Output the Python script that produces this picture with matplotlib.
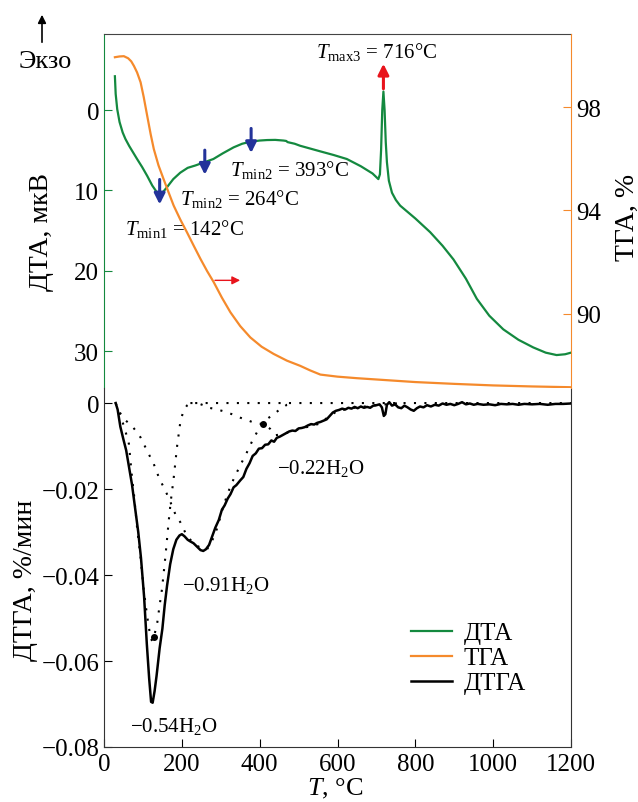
import matplotlib
matplotlib.use("Agg")
import matplotlib.pyplot as plt

plt.rcParams['font.family'] = ['Liberation Serif', 'DejaVu Serif']
plt.rcParams['mathtext.fontset'] = 'custom'
plt.rcParams['mathtext.rm'] = 'Liberation Serif'
plt.rcParams['mathtext.it'] = 'Liberation Serif:italic'

GREEN = '#14893f'
ORANGE = '#f58a2c'
BLUE = '#23339a'
RED = '#e8141c'

# DTA, мкВ
dta_t = [28, 30, 34, 40, 48, 55, 65, 75, 85, 98, 111, 124, 136, 143, 150, 162, 178, 196,
         215, 235, 258, 281, 305, 333, 355, 376, 400, 419, 440, 461, 468, 472, 490, 504,
         530, 556, 590, 624, 660, 690, 705, 709, 712, 715, 718, 721, 724, 727, 732, 740,
         750, 761, 800, 838, 870, 898, 930, 958, 990, 1026, 1065, 1103, 1135, 1163, 1185, 1200]
dta_v = [-4.2, -2.0, -0.1, 1.5, 2.8, 3.6, 4.5, 5.3, 6.1, 7.1, 8.2, 9.4, 10.25, 10.5, 10.3,
         9.6, 8.6, 7.8, 7.2, 6.9, 6.5, 6.1, 5.4, 4.65, 4.2, 3.95, 3.8, 3.74, 3.72, 3.8, 3.85,
         4.0, 4.2, 4.45, 4.8, 5.15, 5.6, 6.1, 7.0, 7.9, 8.6, 8.0, 5.0, 0.0, -2.3, 0.0, 4.0,
         6.5, 8.8, 10.3, 11.2, 11.9, 13.5, 15.2, 16.9, 18.6, 21.0, 23.5, 25.6, 27.3, 28.6,
         29.55, 30.2, 30.5, 30.4, 30.2]

# ТГА, %
tga_t = [28, 40, 51, 62, 70, 77, 85, 94, 102, 111, 120, 128, 140, 153, 166, 179, 196, 213,
         230, 248, 265, 282, 303, 325, 350, 376, 405, 436, 470, 504, 530, 556, 600, 650,
         700, 750, 800, 900, 1000, 1100, 1200]
tga_v = [99.94, 99.97, 99.98, 99.9, 99.78, 99.6, 99.35, 98.97, 98.4, 97.67, 96.95, 96.38,
         95.75, 95.22, 94.7, 94.19, 93.65, 93.16, 92.65, 92.12, 91.65, 91.22, 90.62, 90.05,
         89.52, 89.08, 88.72, 88.44, 88.18, 87.98, 87.8, 87.64, 87.56, 87.5, 87.45, 87.4,
         87.35, 87.28, 87.22, 87.18, 87.15]

# ДТГА, %/мин
dtg_t = [30, 35, 42, 50, 57, 64, 72, 80, 88, 95, 103, 110, 116, 121, 125, 130, 135, 143,
         150, 156, 162, 170, 178, 186, 194, 200, 207, 215, 222, 230, 240, 248, 255, 262,
         270, 278, 286, 295, 303, 310, 318, 325, 333, 340, 350, 358, 366, 374, 382, 390,
         398, 406, 414, 422, 430, 437, 444, 452, 460, 468, 476, 484, 492, 500, 508, 516,
         524, 532, 540, 548, 556, 564, 572, 580, 588, 596, 604, 612, 620, 628, 636, 644,
         652, 660, 668, 676, 684, 692, 700, 708, 714, 719, 723, 727, 733, 740, 748, 756,
         764, 772, 780, 788, 796, 804, 812, 821, 830, 840, 850, 860, 870, 880, 890, 900,
         910, 920, 930, 940, 950, 960, 975, 990, 1005, 1020, 1035, 1050, 1065, 1080, 1100,
         1120, 1140, 1160, 1180, 1200]
dtg_v = [0.0, -0.0015, -0.0055, -0.0085, -0.011, -0.0148, -0.019, -0.0245, -0.030, -0.036,
         -0.045, -0.056, -0.064, -0.0695, -0.0697, -0.067, -0.0635, -0.057, -0.0525, -0.047,
         -0.0425, -0.0375, -0.034, -0.0318, -0.0308, -0.0305, -0.031, -0.0318, -0.0322,
         -0.0326, -0.0335, -0.0342, -0.0344, -0.034, -0.033, -0.031, -0.029, -0.0272,
         -0.0248, -0.0238, -0.0222, -0.0212, -0.0196, -0.0191, -0.0180, -0.0172, -0.0153,
         -0.0140, -0.0123, -0.0117, -0.0106, -0.0105, -0.0097, -0.0096, -0.0087, -0.0090,
         -0.0081, -0.0078, -0.0074, -0.0070, -0.0066, -0.0064, -0.0065, -0.0059, -0.0058,
         -0.0056, -0.0052, -0.0049, -0.0050, -0.0046, -0.0044, -0.0041, -0.0038, -0.0030,
         -0.0022, -0.0018, -0.0016, -0.0013, -0.0015, -0.0011, -0.0013, -0.0009, -0.0012,
         -0.0008, -0.0011, -0.0009, -0.0011, -0.0006, -0.0005, -0.0003, -0.0010, -0.0030,
         -0.0026, -0.0004, 0.0002, -0.0006, -0.0003, -0.0010, -0.0012, -0.0006, -0.0010,
         -0.0015, -0.0018, -0.0012, -0.0008, -0.0010, -0.0005, -0.0008, -0.0004, -0.0006,
         -0.0001, -0.0004, -0.0002, -0.0005, -0.0002, 0.0002, -0.0003, -0.0001, -0.0004,
         -0.0002, -0.0004, -0.0003, -0.0005, -0.0002, -0.0003, -0.0002, -0.0004, -0.0002,
         -0.0003, -0.0002, -0.0004, -0.0002, -0.0002, -0.0001]

# deconvoluted steps (dotted)
p1_t = [30, 34, 42, 51, 58, 64, 68, 72, 77, 85, 94, 102, 110, 115, 120, 124, 128, 132,
        137, 143, 149, 158, 166, 172, 179, 188, 196, 204, 213, 222, 1200]
p1_v = [0.0, -0.0014, -0.003, -0.0053, -0.0075, -0.0095, -0.0134, -0.0173, -0.0212,
        -0.029, -0.036, -0.0433, -0.049, -0.052, -0.0548, -0.0553, -0.0545, -0.053,
        -0.051, -0.047, -0.0433, -0.0355, -0.0277, -0.0225, -0.0175, -0.0099, -0.0045,
        -0.0018, -0.0006, 0.0, 0.0]
p2_t = [30, 38, 51, 72, 81, 94, 102, 111, 119, 128, 141, 149, 158, 171, 184, 196, 213,
        226, 239, 252, 265, 278, 290, 300, 307, 320, 333, 350, 367, 380, 393, 406, 419,
        436, 453, 470, 490]
p2_v = [0.0, -0.0018, -0.0037, -0.0053, -0.0064, -0.008, -0.0095, -0.0111, -0.0126,
        -0.0142, -0.0173, -0.0188, -0.0204, -0.0231, -0.026, -0.0277, -0.0309, -0.0322,
        -0.0332, -0.0338, -0.034, -0.032, -0.0293, -0.0262, -0.0239, -0.0205, -0.0177,
        -0.0145, -0.0115, -0.009, -0.0068, -0.0052, -0.0037, -0.0026, -0.0014, -0.0004, 0.0]
p3_t = [222, 240, 255, 265, 286, 307, 329, 350, 372, 389, 409, 427, 440, 460, 500, 550,
        600, 650, 700, 760]
p3_v = [0.0, 0.0, -0.0005, -0.001, -0.0014, -0.0019, -0.0026, -0.0034, -0.0041, -0.0047,
        -0.0049, -0.006, -0.0075, -0.0072, -0.0061, -0.0049, -0.0018, -0.0010, -0.0005, 0.0]
marks_t = [128, 409]
marks_v = [-0.0543, -0.0049]

W, H = 638, 803
fig = plt.figure(figsize=(W / 100, H / 100), dpi=100)
L, R = 104, 571
ax1 = fig.add_axes([L / W, 1 - 389 / H, (R - L) / W, (389 - 35) / H])
ax3 = fig.add_axes([L / W, 1 - 748 / H, (R - L) / W, (748 - 389) / H])
ax2 = ax1.twinx()

# top panel: DTA + TGA
ax1.plot(dta_t, dta_v, color=GREEN, lw=1.6, label='ДТА')
ax1.set_xlim(0, 1200)
ax1.set_ylim(34.6, -9.46)
ax1.set_yticks([0, 10, 20, 30])
ax1.set_xticks([])
ax1.tick_params(axis='y', direction='in', length=6, color=GREEN, labelsize=18)
ax1.spines['left'].set_color(GREEN)
ax1.spines['bottom'].set_visible(False)
ax1.spines['right'].set_visible(False)
ax1.spines['top'].set_color('#444444')

ax2.plot(tga_t, tga_v, color=ORANGE, lw=1.6, label='ТГА')
ax2.set_ylim(87.12, 100.84)
ax2.set_yticks([90, 94, 98])
ax2.tick_params(axis='y', direction='in', length=6, color=ORANGE, labelsize=18)
for s in ['left', 'top', 'bottom']:
    ax2.spines[s].set_visible(False)
ax2.spines['right'].set_color(ORANGE)

blue_arrows = [(143, 8.3, 12.1), (259, 4.65, 8.4), (378, 1.95, 5.7)]
for t, y0, y1 in blue_arrows:
    ax1.annotate('', xy=(t, y1), xytext=(t, y0),
                 arrowprops=dict(arrowstyle='-|>', color=BLUE, lw=2.2, mutation_scale=16))
ax1.annotate('', xy=(718, -6.1), xytext=(718, -2.3),
             arrowprops=dict(arrowstyle='-|>', color=RED, lw=2.2, mutation_scale=16))
ax1.annotate('', xy=(357, 21.2), xytext=(278, 21.2),
             arrowprops=dict(arrowstyle='-|>', color=RED, lw=1.0, mutation_scale=12))

ax1.text(53, 14.7, r'$T_{\rm min1}$ = 142°C', fontsize=15, va='center')
ax1.text(196, 11.0, r'$T_{\rm min2}$ = 264°C', fontsize=15, va='center')
ax1.text(325, 7.4, r'$T_{\rm min2}$ = 393°C', fontsize=15, va='center')
ax1.text(546, -7.4, r'$T_{\rm max3}$ = 716°C', fontsize=15, va='center')

# bottom panel: DTGA
ax3.plot(p1_t, p1_v, color='black', lw=1.5, ls=(0, (1, 4)))
ax3.plot(p2_t, p2_v, color='black', lw=1.5, ls=(0, (1, 4)))
ax3.plot(p3_t, p3_v, color='black', lw=1.5, ls=(0, (1, 4)))
ax3.plot(marks_t, marks_v, 'o', color='black', ms=4)
ax3.plot(dtg_t, dtg_v, color='black', lw=1.8, label='ДТГА')
ax3.set_xlim(0, 1200)
ax3.set_ylim(-0.08, 0.0035)
yt = [0, -0.02, -0.04, -0.06, -0.08]
ax3.set_yticks(yt)
ax3.set_yticklabels(['0'] + ['−%.2f' % abs(v) for v in yt[1:]])
ax3.set_xticks([0, 200, 400, 600, 800, 1000, 1200])
ax3.tick_params(direction='in', length=6, labelsize=18)
ax3.tick_params(axis='x', pad=4)
ax3.spines['top'].set_visible(False)
for s in ['left', 'right', 'bottom']:
    ax3.spines[s].set_color('#333333')

ax3.text(68, -0.075, '−0.54H$_2$O', fontsize=15, va='center')
ax3.text(200, -0.0421, '−0.91H$_2$O', fontsize=15, va='center')
ax3.text(444, -0.015, '−0.22H$_2$O', fontsize=15, va='center')

handles = ax1.get_lines()[:1] + ax2.get_lines()[:1] + [ax3.get_lines()[-1]]
fig.legend(handles, ['ДТА', 'ТГА', 'ДТГА'], loc='upper left',
           bbox_to_anchor=(411 / W, 1 - 623 / H), frameon=False, fontsize=18,
           handlelength=1.65, handletextpad=0.45, labelspacing=0.1,
           borderpad=0, borderaxespad=0)

# axis labels
fig.text(42 / W, 1 - 232 / H, 'ДТА, мкВ', rotation=90, fontsize=20, ha='center', va='center')
fig.text(627 / W, 1 - 217 / H, 'ТГА, %', rotation=90, fontsize=20, ha='center', va='center')
fig.text(25 / W, 1 - 580 / H, 'ДТГА, %/мин', rotation=90, fontsize=20, ha='center', va='center')
fig.text(335 / W, 1 - 801 / H, r'$T$, °C', fontsize=19, ha='center', va='bottom')

fig.text(45 / W, 1 - 62 / H, 'Экзо', fontsize=19, ha='center', va='center')
fig.patches.append(matplotlib.patches.FancyArrowPatch(
    (42 / W, 1 - 46 / H), (42 / W, 1 - 13 / H), transform=fig.transFigure,
    arrowstyle='-|>', mutation_scale=12, color='black', lw=1.2))

fig.savefig('out.png', dpi=100)
